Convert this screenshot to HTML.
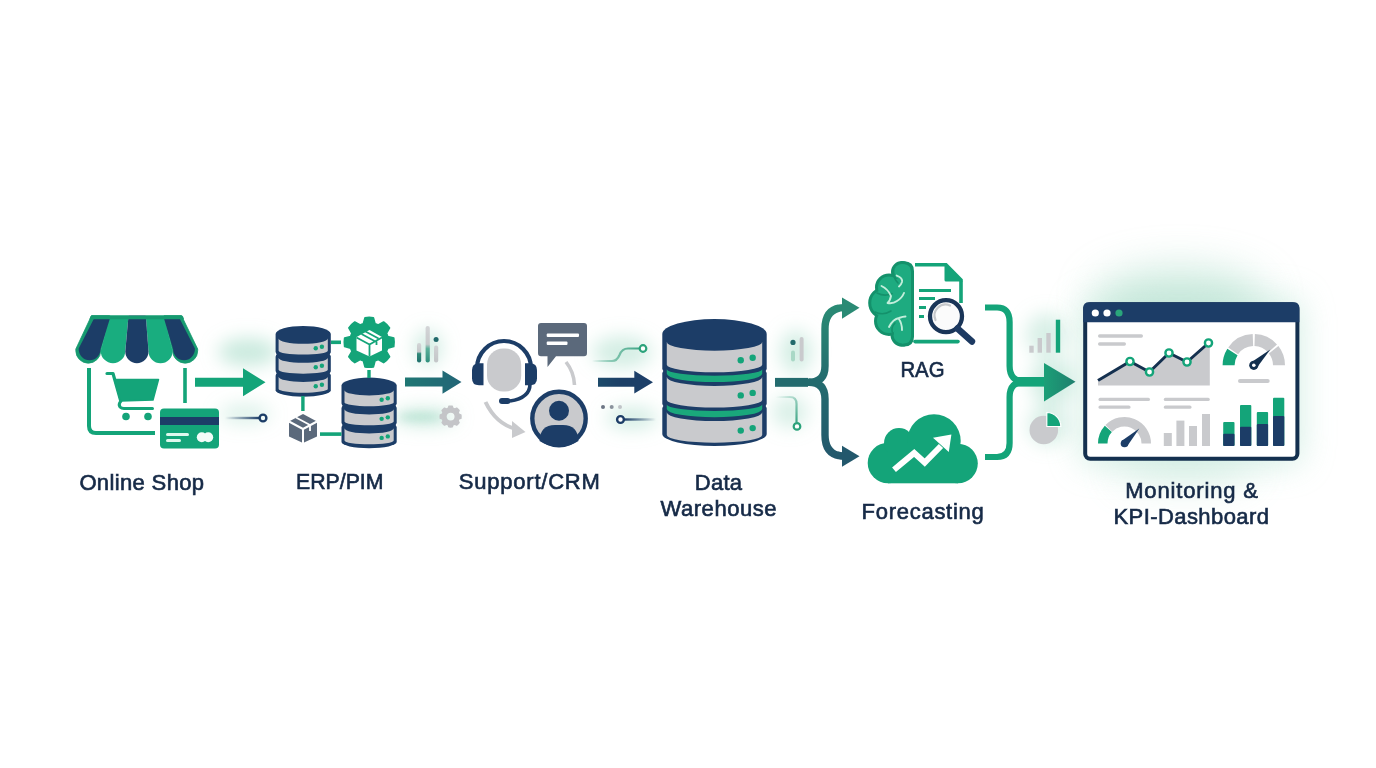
<!DOCTYPE html>
<html><head><meta charset="utf-8"><style>
html,body{margin:0;padding:0;width:1376px;height:768px;overflow:hidden;background:#ffffff}
.lb{font-family:"Liberation Sans",sans-serif;font-size:22px;fill:#162a47;stroke:#162a47;stroke-width:0.65px;}
</style></head><body>
<svg width="1376" height="768" viewBox="0 0 1376 768" style="position:absolute;left:0;top:0"><defs>
<linearGradient id="gTeal" x1="0" x2="1"><stop offset="0" stop-color="#1f7773"/><stop offset="1" stop-color="#236577"/></linearGradient>
<linearGradient id="gNavy" x1="0" x2="1"><stop offset="0" stop-color="#1d4a6a"/><stop offset="0.4" stop-color="#1c4067"/><stop offset="1" stop-color="#1d3f69"/></linearGradient>
<linearGradient id="gMerge" x1="0" x2="1"><stop offset="0" stop-color="#1c9f77"/><stop offset="1" stop-color="#1f7f6e"/></linearGradient>
<filter id="blur" x="-100%" y="-100%" width="300%" height="300%"><feGaussianBlur stdDeviation="9"/></filter>
<filter id="blur3" x="-100%" y="-200%" width="300%" height="500%"><feGaussianBlur stdDeviation="20"/></filter>
<filter id="blur4" x="-100%" y="-300%" width="300%" height="700%"><feGaussianBlur stdDeviation="4"/></filter>
<filter id="blur2" x="-50%" y="-50%" width="200%" height="200%"><feGaussianBlur stdDeviation="16"/></filter>
<radialGradient id="glow"><stop offset="0" stop-color="#7fcfb1" stop-opacity="1"/><stop offset="0.5" stop-color="#9ad9c1" stop-opacity="0.45"/><stop offset="1" stop-color="#ffffff" stop-opacity="0"/></radialGradient>
</defs><g filter="url(#blur)" fill="#9fd9c3">
<ellipse cx="248" cy="352" rx="30" ry="14" opacity="0.55"/>
<ellipse cx="245" cy="414" rx="26" ry="10" opacity="0.35"/>
<ellipse cx="428" cy="348" rx="14" ry="18" opacity="0.45"/>
<ellipse cx="425" cy="417" rx="32" ry="9" opacity="0.5"/>
<ellipse cx="622" cy="352" rx="30" ry="16" opacity="0.45"/>
<ellipse cx="632" cy="418" rx="26" ry="11" opacity="0.45"/>
<ellipse cx="796" cy="352" rx="16" ry="22" opacity="0.45"/>
<ellipse cx="790" cy="412" rx="18" ry="16" opacity="0.4"/>
<ellipse cx="1046" cy="335" rx="20" ry="22" opacity="0.4"/>
<ellipse cx="1052" cy="382" rx="22" ry="24" opacity="0.45"/>
<ellipse cx="1048" cy="425" rx="20" ry="20" opacity="0.4"/>
</g>
<ellipse cx="420" cy="417" rx="22" ry="4" fill="#a6dcc8" opacity="0.6" filter="url(#blur4)"/>
<rect x="1080" y="298" width="222" height="167" rx="12" fill="#b5e3d1" opacity="0.55" filter="url(#blur2)"/>
<ellipse cx="1180" cy="298" rx="85" ry="30" fill="#a6dac5" opacity="0.55" filter="url(#blur3)"/>
<ellipse cx="1185" cy="468" rx="70" ry="16" fill="#a6dac5" opacity="0.4" filter="url(#blur3)"/>
<rect x="1085" y="304" width="212" height="155" fill="#ffffff"/>
<path d="M91.5 315.6 L109.7 315.6 L100.7 350.75 A12.45 12.45 0 0 1 75.8 350.75 L75.8 349 Z" fill="#169a70" stroke="#169a70" stroke-width="0.8" stroke-linejoin="round"/>
<path d="M164.1 315.6 L181.5 315.6 L197.7 349 L197.7 350.65 A12.55 12.55 0 0 1 172.6 350.65 Z" fill="#169a70" stroke="#169a70" stroke-width="0.8" stroke-linejoin="round"/>
<path d="M109.7 315.6 L128.5 315.6 L125.3 350.9 A12.3 12.3 0 0 1 100.7 350.9 Z" fill="#19ad7f"/>
<path d="M145.8 315.6 L164.1 315.6 L172.6 351.15 A12.05 12.05 0 0 1 148.5 351.15 Z" fill="#19ad7f"/>
<path d="M128.5 315.6 L145.8 315.6 L148.5 351.6 A11.6 11.6 0 0 1 125.3 351.6 Z" fill="#1c3d67"/>
<path d="M94 318.5 L109.9 318.5 L100.5 349.3 A10.9 10.9 0 0 1 78.7 349.3 L78.7 348.5 Z" fill="#1c3d67"/>
<path d="M164 318.5 L179.6 318.5 L194.9 348.5 L194.9 349.3 A10.9 10.9 0 0 1 173.1 349.3 Z" fill="#1c3d67"/>
<path d="M92 315.6 L181 315.6 Q182.6 315.6 183.3 317 L184 319.2 L89.5 319.2 L90.2 317 Q91 315.6 92 315.6 Z" fill="#169a70"/>
<path d="M89 368 L89 426 Q89 433 96 433 L155 433" fill="none" stroke="#14a479" stroke-width="4"/>
<path d="M185 368 L185 403" fill="none" stroke="#14a479" stroke-width="3.6"/>
<path d="M107 373.5 L113 373.5 L120.5 400" fill="none" stroke="#14a479" stroke-width="3.2" stroke-linecap="round" stroke-linejoin="round"/>
<path d="M114.5 379.5 L158.5 379.5 L153 400 L120.5 401 Z" fill="#14a479" stroke="#14a479" stroke-width="1.5" stroke-linejoin="round"/>
<path d="M121 401 Q118 404 120 407 Q121.5 408.5 124 408.5 L152.5 408.5" fill="none" stroke="#14a479" stroke-width="3" stroke-linecap="round"/>
<circle cx="126" cy="416.5" r="3.8" fill="#14a479"/><circle cx="148" cy="416.5" r="3.8" fill="#14a479"/>
<rect x="160" y="408.5" width="59" height="40" rx="4" fill="#14a479"/>
<rect x="160" y="417" width="59" height="8" fill="#1c3d67"/>
<rect x="166" y="433" width="23" height="3" rx="1.5" fill="#dff8ee"/><rect x="166" y="439" width="15" height="3" rx="1.5" fill="#dff8ee"/>
<circle cx="201.8" cy="437.2" r="5" fill="#f2fcf8"/><circle cx="208.2" cy="437.2" r="5" fill="#f2fcf8"/>
<defs><linearGradient id="fadeNavy" x1="0" x2="1"><stop offset="0" stop-color="#1c3d67" stop-opacity="0"/><stop offset="1" stop-color="#1c3d67"/></linearGradient></defs>
<rect x="225" y="416.8" width="35" height="2.4" fill="url(#fadeNavy)"/>
<circle cx="263" cy="418" r="3.4" fill="none" stroke="#1c3d67" stroke-width="2.4"/>
<path d="M195 377.8 L243 377.8 L243 368.3 L265.5 382.3 L243 396.3 L243 386.8 L195 386.8 Z" fill="#14a479"/>
<path d="M275.6 334 A27.6 8 0 0 1 330.8 334 L330.8 390.3 A27.6 6.4 0 0 1 275.6 390.3 Z" fill="#1c3d67"/>
<path d="M278.6 338.6 A24.6 5.2 0 0 0 327.8 338.6 L327.8 350.8 A24.6 3.8 0 0 1 278.6 350.8 Z" fill="#c9cacd"/>
<path d="M275 351.73 L276.7 354.23 L275 356.73 Z M331.4 351.73 L329.7 354.23 L331.4 356.73 Z" fill="#ffffff"/>
<circle cx="315.75" cy="348.2" r="2.2" fill="#14a479"/><circle cx="321.9" cy="346.7" r="2.2" fill="#14a479"/>
<path d="M278.6 357.65 A24.6 5.2 0 0 0 327.8 357.65 L327.8 369.85 A24.6 3.8 0 0 1 278.6 369.85 Z" fill="#c9cacd"/>
<path d="M275 370.78 L276.7 373.28 L275 375.78 Z M331.4 370.78 L329.7 373.28 L331.4 375.78 Z" fill="#ffffff"/>
<circle cx="315.75" cy="367.25" r="2.2" fill="#14a479"/><circle cx="321.9" cy="365.75" r="2.2" fill="#14a479"/>
<path d="M278.6 376.7 A24.6 5.2 0 0 0 327.8 376.7 L327.8 388.9 A24.6 3.8 0 0 1 278.6 388.9 Z" fill="#c9cacd"/>
<circle cx="315.75" cy="386.3" r="2.2" fill="#14a479"/><circle cx="321.9" cy="384.8" r="2.2" fill="#14a479"/>
<path d="M341.5 385.6 A27.6 8 0 0 1 396.7 385.6 L396.7 441.9 A27.6 6.4 0 0 1 341.5 441.9 Z" fill="#1c3d67"/>
<path d="M344.5 390.2 A24.6 5.2 0 0 0 393.7 390.2 L393.7 402.4 A24.6 3.8 0 0 1 344.5 402.4 Z" fill="#c9cacd"/>
<path d="M340.9 403.32 L342.6 405.82 L340.9 408.32 Z M397.3 403.32 L395.6 405.82 L397.3 408.32 Z" fill="#ffffff"/>
<circle cx="381.65" cy="399.8" r="2.2" fill="#14a479"/><circle cx="387.8" cy="398.3" r="2.2" fill="#14a479"/>
<path d="M344.5 409.25 A24.6 5.2 0 0 0 393.7 409.25 L393.7 421.45 A24.6 3.8 0 0 1 344.5 421.45 Z" fill="#c9cacd"/>
<path d="M340.9 422.38 L342.6 424.88 L340.9 427.38 Z M397.3 422.38 L395.6 424.88 L397.3 427.38 Z" fill="#ffffff"/>
<circle cx="381.65" cy="418.85" r="2.2" fill="#14a479"/><circle cx="387.8" cy="417.35" r="2.2" fill="#14a479"/>
<path d="M344.5 428.3 A24.6 5.2 0 0 0 393.7 428.3 L393.7 440.5 A24.6 3.8 0 0 1 344.5 440.5 Z" fill="#c9cacd"/>
<circle cx="381.65" cy="437.9" r="2.2" fill="#14a479"/><circle cx="387.8" cy="436.4" r="2.2" fill="#14a479"/>
<rect x="331" y="340.5" width="10" height="3.6" fill="#14a479"/>
<rect x="367.3" y="370" width="3.4" height="8" fill="#14a479"/>
<rect x="301.2" y="396" width="3.4" height="15" fill="#14a479"/>
<rect x="320" y="432.3" width="21.5" height="3.6" fill="#14a479"/>
<path d="M363.29 323.72 L364.97 317.66 A25 25 0 0 1 373.43 317.66 L375.11 323.72 A19.5 19.5 0 0 1 378.16 324.98 L383.63 321.89 A25 25 0 0 1 389.61 327.87 L386.52 333.34 A19.5 19.5 0 0 1 387.78 336.39 L393.84 338.07 A25 25 0 0 1 393.84 346.53 L387.78 348.21 A19.5 19.5 0 0 1 386.52 351.26 L389.61 356.73 A25 25 0 0 1 383.63 362.71 L378.16 359.62 A19.5 19.5 0 0 1 375.11 360.88 L373.43 366.94 A25 25 0 0 1 364.97 366.94 L363.29 360.88 A19.5 19.5 0 0 1 360.24 359.62 L354.77 362.71 A25 25 0 0 1 348.79 356.73 L351.88 351.26 A19.5 19.5 0 0 1 350.62 348.21 L344.56 346.53 A25 25 0 0 1 344.56 338.07 L350.62 336.39 A19.5 19.5 0 0 1 351.88 333.34 L348.79 327.87 A25 25 0 0 1 354.77 321.89 L360.24 324.98 A19.5 19.5 0 0 1 363.29 323.72 Z" fill="#14a479" fill-rule="evenodd" stroke="#14a479" stroke-width="1.5" stroke-linejoin="round"/>
<path d="M369.5 330 L382 337 L382 350.5 L369.5 356.5 L356.5 350.5 L356.5 337 Z" fill="#ffffff"/>
<path d="M356.5 337.5 L369.5 344.5 L382 337.5 M369.5 344.5 L369.5 356.5 M361.5 334 L374.5 341 M365.5 331.5 L378.5 338.5 M376.5 341.5 L376.5 345" fill="none" stroke="#14a479" stroke-width="1.8"/>
<path d="M303 414 L317 421.5 L317 436.5 L303 443 L289 436.5 L289 421.5 Z" fill="#5b697b"/>
<path d="M289 421.5 L303 429 L317 421.5 M303 429 L303 443" fill="none" stroke="#ffffff" stroke-width="2"/>
<path d="M296 417.5 L310 425 L310 431" fill="none" stroke="#ffffff" stroke-width="1.8"/>
<defs><linearGradient id="barG1" x1="0" y1="0" x2="0" y2="1"><stop offset="0" stop-color="#d3d5d7"/><stop offset="0.45" stop-color="#c5c8ca"/><stop offset="0.55" stop-color="#2f8a78"/><stop offset="1" stop-color="#1f6f6c"/></linearGradient><linearGradient id="barG2" x1="0" y1="0" x2="0" y2="1"><stop offset="0" stop-color="#d3d5d7"/><stop offset="0.5" stop-color="#c8cacc"/><stop offset="0.62" stop-color="#5bb09a"/><stop offset="1" stop-color="#2f8f7c"/></linearGradient><linearGradient id="barG3" x1="0" y1="0" x2="0" y2="1"><stop offset="0" stop-color="#d0d2d4"/><stop offset="1" stop-color="#c3c6c8"/></linearGradient></defs>
<rect x="417" y="343" width="4.2" height="19.5" rx="2.1" fill="url(#barG1)"/>
<rect x="425.6" y="326" width="4.2" height="36.5" rx="2.1" fill="url(#barG2)"/>
<rect x="434" y="345.5" width="4.2" height="17" rx="2.1" fill="url(#barG3)"/><circle cx="436.1" cy="339.6" r="2.5" fill="#226a6c"/>
<path d="M405 377.6 L442.5 377.6 L442.5 370.5 L461.5 382.1 L442.5 393.7 L442.5 386.6 L405 386.6 Z" fill="url(#gTeal)"/>
<path d="M448.33 408.31 L448.91 406.34 A10.4 10.4 0 0 1 452.29 406.34 L452.87 408.31 A8.6 8.6 0 0 1 454.86 409.13 L456.66 408.15 A10.4 10.4 0 0 1 459.05 410.54 L458.07 412.34 A8.6 8.6 0 0 1 458.89 414.33 L460.86 414.91 A10.4 10.4 0 0 1 460.86 418.29 L458.89 418.87 A8.6 8.6 0 0 1 458.07 420.86 L459.05 422.66 A10.4 10.4 0 0 1 456.66 425.05 L454.86 424.07 A8.6 8.6 0 0 1 452.87 424.89 L452.29 426.86 A10.4 10.4 0 0 1 448.91 426.86 L448.33 424.89 A8.6 8.6 0 0 1 446.34 424.07 L444.54 425.05 A10.4 10.4 0 0 1 442.15 422.66 L443.13 420.86 A8.6 8.6 0 0 1 442.31 418.87 L440.34 418.29 A10.4 10.4 0 0 1 440.34 414.91 L442.31 414.33 A8.6 8.6 0 0 1 443.13 412.34 L442.15 410.54 A10.4 10.4 0 0 1 444.54 408.15 L446.34 409.13 A8.6 8.6 0 0 1 448.33 408.31 Z M455.3 416.6 A4.7 4.7 0 1 0 445.9 416.6 A4.7 4.7 0 1 0 455.3 416.6 Z" fill="#c4c5c8" fill-rule="evenodd" stroke="#c4c5c8" stroke-width="1.5" stroke-linejoin="round"/>
<rect x="487" y="348.5" width="34.2" height="43" rx="16" fill="#c9cacd"/>
<path d="M477 368 A27 27 0 0 1 531 368" fill="none" stroke="#1c3d67" stroke-width="4.2"/>
<path d="M483.5 363.3 L479 363.3 Q472 363.3 472 370.3 L472 378.3 Q472 385.3 479 385.3 L483.5 385.3 Z" fill="#1c3d67"/>
<path d="M525 363.3 L530 363.3 Q537 363.3 537 370.3 L537 378.3 Q537 385.3 530 385.3 L525 385.3 Z" fill="#1c3d67"/>
<path d="M530 384 Q530 398 510 401" fill="none" stroke="#1c3d67" stroke-width="3.6"/>
<rect x="499" y="398" width="11.5" height="6" rx="3" fill="#1c3d67"/>
<path d="M541 323 L584 323 Q587 323 587 326 L587 353 Q587 356.3 584 356.3 L556 356.3 L547.5 367 L547.5 356.3 L541 356.3 Q538 356.3 538 353 L538 326 Q538 323 541 323 Z" fill="#5b697b"/>
<rect x="546.7" y="333.5" width="32.3" height="3.4" rx="1" fill="#ffffff"/><rect x="546.7" y="341.5" width="20.8" height="3.4" rx="1" fill="#ffffff"/>
<path d="M566 362 Q574 372 574.5 385" fill="none" stroke="#c9cacd" stroke-width="3.6"/>
<path d="M485.5 402 Q496 424 516 429" fill="none" stroke="#c9cacd" stroke-width="4"/>
<path d="M512 421 L525.5 432 L512 438 Z" fill="#c9cacd"/>
<circle cx="559" cy="418.5" r="26.7" fill="#c9cacd" stroke="#1c3d67" stroke-width="4.4"/>
<circle cx="559" cy="410.8" r="10" fill="#1c3d67"/>
<path d="M539.5 441 Q540 425 555 425 L563 425 Q578 425 578.5 441 Q570 446.5 559 446.5 Q548 446.5 539.5 441 Z" fill="#1c3d67"/>
<defs><linearGradient id="fadeTeal" x1="0" x2="1"><stop offset="0" stop-color="#5fb39a" stop-opacity="0"/><stop offset="0.5" stop-color="#7cc2ab"/><stop offset="1" stop-color="#3fa586"/></linearGradient></defs>
<path d="M592 361 L612 361 Q617 361 619.5 355 Q622 348.5 628 348.5 L640 348.5" fill="none" stroke="url(#fadeTeal)" stroke-width="2.2"/>
<circle cx="643" cy="348.5" r="3.3" fill="#ffffff" stroke="#2aa27a" stroke-width="2.2"/>
<path d="M598 377.7 L634.3 377.7 L634.3 370.8 L653 382.2 L634.3 393.6 L634.3 386.7 L598 386.7 Z" fill="url(#gNavy)"/>
<circle cx="603" cy="407" r="2" fill="#6c7584"/><circle cx="611.7" cy="407" r="2" fill="#8a929c"/><circle cx="620" cy="407" r="2" fill="#c0c4c8"/>
<rect x="624" y="418.3" width="32" height="2.4" fill="url(#fadeNavyR)"/>
<defs><linearGradient id="fadeNavyR" x1="0" x2="1"><stop offset="0" stop-color="#1c3d67"/><stop offset="1" stop-color="#1c3d67" stop-opacity="0"/></linearGradient></defs>
<circle cx="620.5" cy="419.5" r="3.4" fill="#ffffff" stroke="#1c3d67" stroke-width="2.4"/>
<path d="M662.3 334.1 A52.2 15 0 0 1 766.7 334.1 L766.7 434 A52.2 12 0 0 1 662.3 434 Z" fill="#1c3d67"/>
<path d="M666.8 341.9 A47.7 8.8 0 0 0 762.2 341.9 L762.2 364.7 A47.7 7.6 0 0 1 666.8 364.7 Z" fill="#c9cacd"/>
<path d="M661.7 368.4 L663.4 370.9 L661.7 373.4 Z M767.3 368.4 L765.6 370.9 L767.3 373.4 Z" fill="#ffffff"/>
<circle cx="740.74" cy="360.2" r="3.2" fill="#14a479"/><circle cx="752.66" cy="357.7" r="3.2" fill="#14a479"/>
<path d="M666.8 369.26 A47.7 6.42 0 0 0 762.2 369.26 L762.2 373.82 A47.7 8.21 0 0 1 666.8 373.82 Z" fill="#1aa87b"/>
<path d="M666.8 377.1 A47.7 8.8 0 0 0 762.2 377.1 L762.2 399.9 A47.7 7.6 0 0 1 666.8 399.9 Z" fill="#c9cacd"/>
<path d="M661.7 403.6 L663.4 406.1 L661.7 408.6 Z M767.3 403.6 L765.6 406.1 L767.3 408.6 Z" fill="#ffffff"/>
<circle cx="740.74" cy="395.4" r="3.2" fill="#14a479"/><circle cx="752.66" cy="392.9" r="3.2" fill="#14a479"/>
<path d="M666.8 404.46 A47.7 6.42 0 0 0 762.2 404.46 L762.2 409.02 A47.7 8.21 0 0 1 666.8 409.02 Z" fill="#1aa87b"/>
<path d="M666.8 412.3 A47.7 8.8 0 0 0 762.2 412.3 L762.2 435.1 A47.7 7.6 0 0 1 666.8 435.1 Z" fill="#c9cacd"/>
<circle cx="740.74" cy="430.6" r="3.2" fill="#14a479"/><circle cx="752.66" cy="428.1" r="3.2" fill="#14a479"/>
<defs><linearGradient id="brUp" x1="0" y1="1" x2="0" y2="0"><stop offset="0" stop-color="#236b6e"/><stop offset="1" stop-color="#2a8a74"/></linearGradient><linearGradient id="brDn" x1="0" y1="0" x2="0" y2="1"><stop offset="0" stop-color="#236b6e"/><stop offset="1" stop-color="#23586c"/></linearGradient></defs>
<path d="M775 382.3 L809 382.3 Q825 382.3 825 366 L825 329 Q825 307.6 845 307.6" fill="none" stroke="url(#brUp)" stroke-width="7.4"/>
<path d="M809 382.3 Q825 382.3 825 399 L825 435 Q825 456.2 845 456.2" fill="none" stroke="url(#brDn)" stroke-width="7.4"/>
<rect x="775" y="377.9" width="33" height="8.9" fill="#236b6e"/>
<path d="M842 297.4 L859.5 307.7 L842 318.7 Z" fill="#2a8a74"/>
<path d="M842 445.7 L859.5 456.2 L842 466.8 Z" fill="#23586c"/>
<circle cx="793" cy="342.4" r="2.6" fill="#226a6c"/><rect x="791" y="350.5" width="4" height="11" rx="2" fill="#a9d8c6"/><rect x="799.6" y="337" width="4" height="24.6" rx="2" fill="#c9cacd"/>
<path d="M776 397 L790 397 Q796.5 397 796.5 404 L796.5 422" fill="none" stroke="url(#fadeTeal2)" stroke-width="2.2"/>
<defs><linearGradient id="fadeTeal2" x1="0" y1="0" x2="1" y2="1"><stop offset="0" stop-color="#5fb39a" stop-opacity="0"/><stop offset="1" stop-color="#3fa586"/></linearGradient></defs>
<circle cx="797" cy="426.4" r="3.3" fill="#ffffff" stroke="#2aa27a" stroke-width="2.2"/>
<path d="M915 264.8 L946 264.8 L961 280 L961 303" fill="none" stroke="#14a479" stroke-width="3.6"/>
<path d="M944.5 263 L963 281.5 L946 281.5 Q944.5 281.5 944.5 280 Z" fill="#14a479"/>
<path d="M915 341.6 L958 341.6" fill="none" stroke="#14a479" stroke-width="3.6" stroke-linecap="round"/>
<rect x="919" y="289" width="32" height="3" fill="#14a479"/><rect x="919" y="297" width="16" height="3" fill="#14a479"/><rect x="919" y="306" width="7" height="3" fill="#14a479"/><rect x="919" y="315" width="5" height="3" fill="#14a479"/>
<circle cx="946" cy="316.2" r="16" fill="#fbfbfb" stroke="#1a3558" stroke-width="4.3"/>
<path d="M935.5 320 A11 11 0 0 1 950 305.5" fill="none" stroke="#c6c8cb" stroke-width="2.2" stroke-linecap="round"/>
<path d="M957.5 328.5 L972 341.5" fill="none" stroke="#1d3a62" stroke-width="6.4" stroke-linecap="round"/>
<g fill="#14916b" stroke="#14916b" stroke-width="3"><circle cx="902" cy="272" r="9.5"/><circle cx="889" cy="287.5" r="12.5"/><circle cx="884.5" cy="303" r="14.8"/><circle cx="889" cy="321" r="13.5"/><circle cx="902" cy="335" r="10"/><path d="M902 262.7 L904 262.7 Q912.5 262.7 912.5 271.2 L912.5 336.5 Q912.5 345 904 345 L902 345 Z"/><rect x="888" y="279" width="18" height="50"/></g>
<g fill="#1eab80"><circle cx="902" cy="272" r="8"/><circle cx="889" cy="287.5" r="11"/><circle cx="884.5" cy="303" r="13.3"/><circle cx="889" cy="321" r="12"/><circle cx="902" cy="335" r="8.5"/><path d="M902 264.2 L903.5 264.2 Q911 264.2 911 271.7 L911 336 Q911 343.5 903.5 343.5 L902 343.5 Z"/><rect x="888" y="279" width="18" height="50"/></g>
<path d="M893.5 270 Q893 278 898 283 M877 293 Q885 297 892 293.5 M875 312 Q883 316 891 311 M893 334 Q890 328 895 323" fill="none" stroke="#14916b" stroke-width="1.6" stroke-linecap="round"/>
<path d="M896.7 275.6 Q903 278 902 282 Q901 285 899 286.5 M881.5 286 Q888 289 891 296 Q890 301 887.5 303 Q893 304 897 301 Q902 298 904 293 M889 327 Q893 319 899 318 Q903 316.5 905.5 316.5 M898.5 318.5 Q902 323 902 330" fill="none" stroke="#c3eedb" stroke-width="1.9" stroke-linecap="round" stroke-linejoin="round"/>
<g fill="#14a479"><circle cx="888" cy="463" r="20.3"/><circle cx="899" cy="443" r="15"/><circle cx="934" cy="441" r="26.7"/><circle cx="958" cy="463.5" r="19.8"/><rect x="888" y="443" width="70" height="40.3"/></g>
<path d="M894 469.7 L914.2 453 L924.7 462.5 L941 446" fill="none" stroke="#ffffff" stroke-width="6" stroke-linejoin="miter"/>
<path d="M933 437.8 L951.4 434.5 L948.8 452 Z" fill="#ffffff"/>
<path d="M985 307.5 L997 307.5 Q1009.6 307.5 1009.6 322 L1009.6 366 Q1009.6 381.6 1025 381.6 L1046 381.6" fill="none" stroke="#14a479" stroke-width="6.2"/>
<path d="M985 457 L997 457 Q1009.6 457 1009.6 443 L1009.6 397 Q1009.6 381.6 1025 381.6" fill="none" stroke="#14a479" stroke-width="6.2"/>
<rect x="1016" y="377" width="30" height="9.6" fill="#14a479"/>
<path d="M1044 363 L1075.5 381.8 L1044 401.5 Z" fill="url(#gMerge)"/>
<rect x="1029.3" y="345.7" width="4.4" height="7" fill="#c9cacd"/><rect x="1037.6" y="338" width="4.4" height="14.7" fill="#c9cacd"/><rect x="1046.3" y="333" width="4.4" height="19.7" fill="#c9cacd"/><rect x="1055.8" y="319.7" width="4.4" height="33" fill="#14a479"/>
<circle cx="1043.8" cy="430" r="14.3" fill="#c9cacd"/>
<path d="M1046.8 426.5 L1046.8 412.5 A14 14 0 0 1 1060.8 426.5 Z" fill="#14a479" stroke="#ffffff" stroke-width="1.2"/>
<rect x="1085.2" y="304.2" width="212.2" height="154.6" rx="5" fill="#ffffff" stroke="#14304f" stroke-width="4"/>
<path d="M1083.2 322.3 L1083.2 308 Q1083.2 302.2 1089 302.2 L1293.5 302.2 Q1299.4 302.2 1299.4 308 L1299.4 322.3 Z" fill="#1c3d67"/>
<circle cx="1095.3" cy="313" r="3.6" fill="#ffffff"/><circle cx="1107" cy="313" r="3.6" fill="#ffffff"/><circle cx="1119" cy="313" r="3.6" fill="#2aa57b"/>
<rect x="1098" y="334.3" width="45" height="3.4" rx="1.7" fill="#c9cacd"/><rect x="1098" y="342.3" width="28" height="3.4" rx="1.7" fill="#c9cacd"/>
<path d="M1098 382 L1130 361.5 L1149.5 372 L1169 353 L1187 362 L1208.5 343 L1209.8 343 L1209.8 385.5 L1098 385.5 Z" fill="#c9cacd"/>
<path d="M1098 380.5 L1130 361.5 L1149.5 372 L1169 353 L1187 362 L1208.5 343" fill="none" stroke="#14304f" stroke-width="3"/>
<circle cx="1130" cy="361.5" r="3.6" fill="#ffffff" stroke="#14a479" stroke-width="2.4"/>
<circle cx="1149.5" cy="372" r="3.6" fill="#ffffff" stroke="#14a479" stroke-width="2.4"/>
<circle cx="1169" cy="353" r="3.6" fill="#ffffff" stroke="#14a479" stroke-width="2.4"/>
<circle cx="1187" cy="362" r="3.6" fill="#ffffff" stroke="#14a479" stroke-width="2.4"/>
<circle cx="1208.5" cy="343" r="3.6" fill="#ffffff" stroke="#14a479" stroke-width="2.4"/>
<path d="M1222.6 365.3 A31.2 31.2 0 0 1 1227.34 348.77 L1237.52 355.13 A19.2 19.2 0 0 0 1234.6 365.3 Z" fill="#14a479"/>
<path d="M1228.24 347.4 A31.2 31.2 0 0 1 1252.71 334.12 L1253.13 346.11 A19.2 19.2 0 0 0 1238.07 354.29 Z" fill="#c9cacd"/>
<path d="M1254.89 334.12 A31.2 31.2 0 0 1 1276.99 344.42 L1268.07 352.45 A19.2 19.2 0 0 0 1254.47 346.11 Z" fill="#c9cacd"/>
<path d="M1278.39 346.09 A31.2 31.2 0 0 1 1285 365.3 L1273 365.3 A19.2 19.2 0 0 0 1268.93 353.48 Z" fill="#c9cacd"/>
<path d="M1251.3 362.3 L1270.3 349.5 L1256.8 367.8 Z" fill="#14304f"/>
<circle cx="1253.8" cy="365.3" r="4.6" fill="#14304f"/><circle cx="1253.8" cy="365.3" r="1.8" fill="#ffffff"/>
<rect x="1238" y="379" width="31.7" height="4" rx="2" fill="#c9cacd"/>
<rect x="1098.5" y="397.8" width="51.5" height="3.3" rx="1.6" fill="#c9cacd"/><rect x="1098.5" y="405.5" width="32" height="3.3" rx="1.6" fill="#c9cacd"/>
<rect x="1163.8" y="397.8" width="46" height="3.3" rx="1.6" fill="#c9cacd"/><rect x="1163.8" y="405.5" width="27.7" height="3.3" rx="1.6" fill="#c9cacd"/>
<path d="M1098 443.5 A26.5 26.5 0 0 1 1104.81 425.77 L1111.87 432.12 A17 17 0 0 0 1107.5 443.5 Z" fill="#14a479"/>
<path d="M1105.44 425.09 A26.5 26.5 0 0 1 1151 443.5 L1141.5 443.5 A17 17 0 0 0 1112.27 431.69 Z" fill="#c9cacd"/>
<path d="M1121.5 441.0 L1139.3 428.5 L1127.0 446.5 Z" fill="#1c3d67"/>
<circle cx="1124.5" cy="443.5" r="3.8" fill="#1c3d67"/>
<rect x="1163.8" y="433" width="8" height="13" fill="#c9cacd"/>
<rect x="1176.4" y="420.6" width="8" height="25.4" fill="#c9cacd"/>
<rect x="1189" y="426" width="8" height="20" fill="#c9cacd"/>
<rect x="1202" y="414" width="8" height="32" fill="#c9cacd"/>
<rect x="1223.2" y="422" width="11.3" height="24" rx="1" fill="#14a479"/>
<rect x="1223.2" y="433.7" width="11.3" height="12.3" rx="1" fill="#1c3d67"/>
<rect x="1240" y="405" width="11.3" height="41" rx="1" fill="#14a479"/>
<rect x="1240" y="426.8" width="11.3" height="19.2" rx="1" fill="#1c3d67"/>
<rect x="1256.8" y="412" width="11.3" height="34" rx="1" fill="#14a479"/>
<rect x="1256.8" y="424" width="11.3" height="22" rx="1" fill="#1c3d67"/>
<rect x="1273" y="397.7" width="11.3" height="48.3" rx="1" fill="#14a479"/>
<rect x="1273" y="416" width="11.3" height="30" rx="1" fill="#1c3d67"/><text x="79.4" y="489.5" textLength="124.7" lengthAdjust="spacing" class="lb">Online Shop</text><text x="296" y="489.4" textLength="87.5" lengthAdjust="spacingAndGlyphs" class="lb">ERP/PIM</text><text x="458.8" y="489.4" textLength="141" lengthAdjust="spacing" class="lb">Support/CRM</text><text x="694.8" y="489.7" textLength="47.3" lengthAdjust="spacing" class="lb">Data</text><text x="660.5" y="516.2" textLength="116" lengthAdjust="spacing" class="lb">Warehouse</text><text x="900.4" y="377.3" textLength="44.1" lengthAdjust="spacingAndGlyphs" class="lb">RAG</text><text x="861.5" y="519.2" textLength="122.3" lengthAdjust="spacing" class="lb">Forecasting</text><text x="1125.2" y="498.3" textLength="132.8" lengthAdjust="spacing" class="lb">Monitoring &amp;</text><text x="1113.5" y="523.9" textLength="155.5" lengthAdjust="spacing" class="lb">KPI-Dashboard</text></svg>
</body></html>
